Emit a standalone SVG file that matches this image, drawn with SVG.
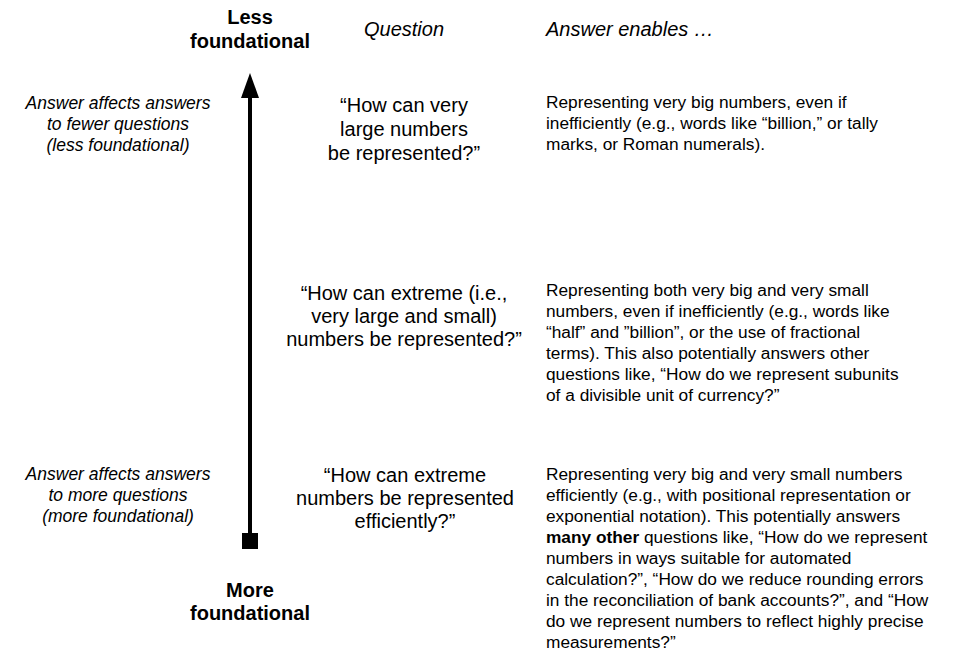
<svg xmlns="http://www.w3.org/2000/svg" width="976" height="664" viewBox="0 0 976 664">
<style>
text{font-family:"Liberation Sans",Arial,sans-serif;fill:#000}
.hd{font-size:20px;font-weight:bold;text-anchor:middle}
.col{font-size:20px;font-style:italic}
.side{font-size:17.5px;font-style:italic;text-anchor:middle}
.q{font-size:20px;text-anchor:middle}
.a{font-size:17.3px}
</style>
<rect width="976" height="664" fill="#fff"/>
<g id="connectors">
<line x1="250" y1="95" x2="250" y2="538" stroke="#000" stroke-width="4"/>
<polygon points="250,73 241,98 259,98" fill="#000"/>
<rect x="242" y="533" width="16" height="16" fill="#000"/>
</g>
<g id="top-label"><text class="hd" x="250" y="24">Less</text><text class="hd" x="250" y="48">foundational</text></g>
<g id="bottom-label"><text class="hd" x="250" y="597">More</text><text class="hd" x="250" y="620">foundational</text></g>
<g id="col-question"><text class="col" x="364" y="36">Question</text></g>
<g id="col-answer"><text class="col" x="546" y="36">Answer enables …</text></g>
<g id="side-top"><text class="side" x="118" y="109">Answer affects answers</text><text class="side" x="118" y="130">to fewer questions</text><text class="side" x="118" y="151">(less foundational)</text></g>
<g id="side-bottom"><text class="side" x="118" y="480">Answer affects answers</text><text class="side" x="118" y="501">to more questions</text><text class="side" x="118" y="522">(more foundational)</text></g>
<g id="q1"><text class="q" x="404" y="112">“How can very</text><text class="q" x="404" y="136">large numbers</text><text class="q" x="404" y="160">be represented?”</text></g>
<g id="q2"><text class="q" x="404" y="300">“How can extreme (i.e.,</text><text class="q" x="404" y="323">very large and small)</text><text class="q" x="404" y="346">numbers be represented?”</text></g>
<g id="q3"><text class="q" x="405" y="482">“How can extreme</text><text class="q" x="405" y="505">numbers be represented</text><text class="q" x="405" y="528">efficiently?”</text></g>
<g id="a1"><text class="a" x="546" y="108">Representing very big numbers, even if</text><text class="a" x="546" y="129">inefficiently (e.g., words like “billion,” or tally</text><text class="a" x="546" y="150">marks, or Roman numerals).</text></g>
<g id="a2"><text class="a" x="546" y="296">Representing both very big and very small</text><text class="a" x="546" y="317">numbers, even if inefficiently (e.g., words like</text><text class="a" x="546" y="338">“half” and ”billion”, or the use of fractional</text><text class="a" x="546" y="359">terms). This also potentially answers other</text><text class="a" x="546" y="380">questions like, “How do we represent subunits</text><text class="a" x="546" y="401">of a divisible unit of currency?”</text></g>
<g id="a3"><text class="a" x="546" y="480">Representing very big and very small numbers</text><text class="a" x="546" y="501">efficiently (e.g., with positional representation or</text><text class="a" x="546" y="522">exponential notation). This potentially answers</text><text class="a" x="546" y="543"><tspan font-weight="bold">many other</tspan> questions like, “How do we represent</text><text class="a" x="546" y="564">numbers in ways suitable for automated</text><text class="a" x="546" y="585">calculation?”, “How do we reduce rounding errors</text><text class="a" x="546" y="606">in the reconciliation of bank accounts?”, and “How</text><text class="a" x="546" y="627">do we represent numbers to reflect highly precise</text><text class="a" x="546" y="648">measurements?”</text></g>
</svg>
